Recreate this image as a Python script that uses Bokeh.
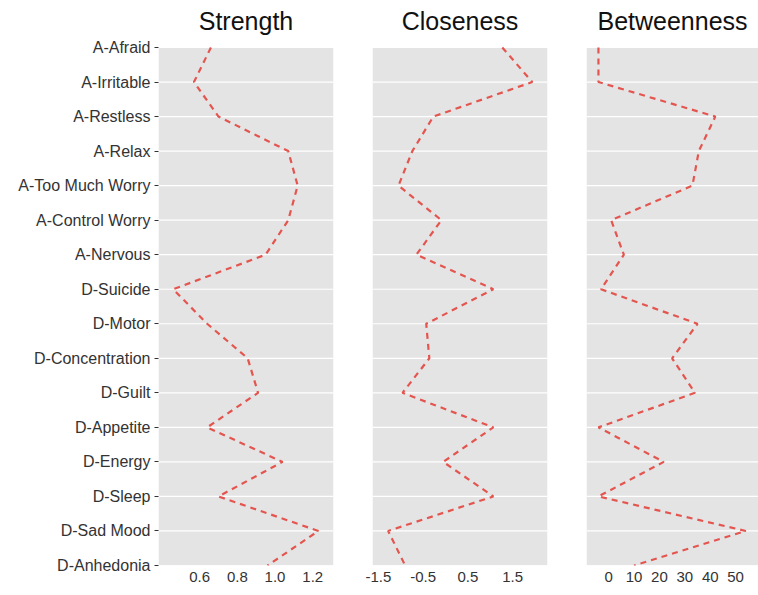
from bokeh.plotting import figure
from bokeh.layouts import row
from bokeh.models import Range1d, FixedTicker, Label, NumeralTickFormatter
from bokeh.embed import file_html
from bokeh.resources import INLINE

nodes = ["A-Afraid", "A-Irritable", "A-Restless", "A-Relax", "A-Too Much Worry",
         "A-Control Worry", "A-Nervous", "D-Suicide", "D-Motor", "D-Concentration",
         "D-Guilt", "D-Appetite", "D-Energy", "D-Sleep", "D-Sad Mood", "D-Anhedonia"]
strength = [0.66, 0.57, 0.70, 1.07, 1.12, 1.07, 0.95, 0.46, 0.64, 0.855,
            0.91, 0.64, 1.04, 0.70, 1.23, 0.96]
closeness = [1.27, 1.94, -0.27, -0.74, -1.05, -0.09, -0.65, 1.07, -0.43, -0.36,
             -0.96, 1.07, -0.05, 1.07, -1.28, -0.90]
betweenness = [-4, -4, 42, 35.5, 33, 1, 6, -3, 35, 25,
               34, -4, 21.7, -4, 54, 10]

strength_ticks = [0.6, 0.8, 1.0, 1.2]
closeness_ticks = [-1.5, -0.5, 0.5, 1.5]
betweenness_ticks = [0, 10, 20, 30, 40, 50]

n = len(nodes)
ypos = [n - 1 - i for i in range(n)]
label_map = {n - 1 - i: nm for i, nm in enumerate(nodes)}

FONT = "Liberation Sans"
BG = "#e4e4e4"
RED = "#e4554f"
PANEL_H = 518          # grey panel height in px
TOP_PAD = 47           # white space above the grey panel in px
TITLE_Y = 27           # title centre above the grey panel in px
unit_px = PANEL_H / (n - 1)
y_top = (n - 1) + TOP_PAD / unit_px


def panel(title, vals, ticks, fmt, xr, left, right, fw, show_y):
    p = figure(frame_width=fw, frame_height=PANEL_H + TOP_PAD, output_backend="svg",
               toolbar_location=None, x_range=Range1d(*xr),
               y_range=Range1d(0, y_top))
    p.min_border_left = left
    p.min_border_right = right
    p.min_border_top = 0
    p.min_border_bottom = 26
    p.background_fill_color = "white"
    p.border_fill_color = "white"
    p.outline_line_color = None
    p.xgrid.grid_line_color = None
    p.ygrid.grid_line_color = None
    # grey panel and white grid lines
    p.quad(left=[xr[0]], right=[xr[1]], bottom=[0], top=[n - 1],
           fill_color=BG, line_color=None)
    p.segment(x0=[xr[0]] * n, x1=[xr[1]] * n, y0=list(range(n)), y1=list(range(n)),
              line_color="white", line_width=1.2)
    p.add_layout(Label(x=(xr[0] + xr[1]) / 2, y=(n - 1) + TITLE_Y / unit_px,
                       text=title, text_align="center", text_baseline="middle",
                       text_font=FONT, text_font_size="25px",
                       text_color="#111111"))
    p.xaxis.ticker = FixedTicker(ticks=ticks)
    p.xaxis.formatter = NumeralTickFormatter(format=fmt)
    p.xaxis.axis_line_color = None
    p.xaxis.major_tick_line_color = None
    p.xaxis.major_tick_out = 0
    p.xaxis.major_tick_in = 0
    p.xaxis.minor_tick_line_color = None
    p.xaxis.major_label_text_font = FONT
    p.xaxis.major_label_text_font_size = "15px"
    p.xaxis.major_label_text_color = "#333333"
    p.xaxis.major_label_standoff = 6
    if show_y:
        p.yaxis.ticker = FixedTicker(ticks=list(range(n)))
        p.yaxis.major_label_overrides = label_map
        p.yaxis.axis_line_color = None
        p.yaxis.minor_tick_line_color = None
        p.yaxis.major_tick_line_color = "#333333"
        p.yaxis.major_tick_out = 4
        p.yaxis.major_tick_in = 0
        p.yaxis.major_label_text_font = FONT
        p.yaxis.major_label_text_font_size = "16px"
        p.yaxis.major_label_text_color = "#333333"
        p.yaxis.major_label_standoff = 4
    else:
        p.yaxis.visible = False
    p.line(vals, ypos, line_color=RED, line_width=2.2, line_dash="6 5")
    return p


p1 = panel("Strength", strength, strength_ticks, "0.0", (0.382, 1.31), 158, 19, 175, True)
p2 = panel("Closeness", closeness, closeness_ticks, "0.0", (-1.63, 2.28), 20, 19, 175, False)
p3 = panel("Betweenness", betweenness, betweenness_ticks, "0", (-8.7, 59.0), 20, 0, 172, False)

layout = row(p1, p2, p3, spacing=0)
open("out.html", "w").write(file_html(layout, INLINE))
